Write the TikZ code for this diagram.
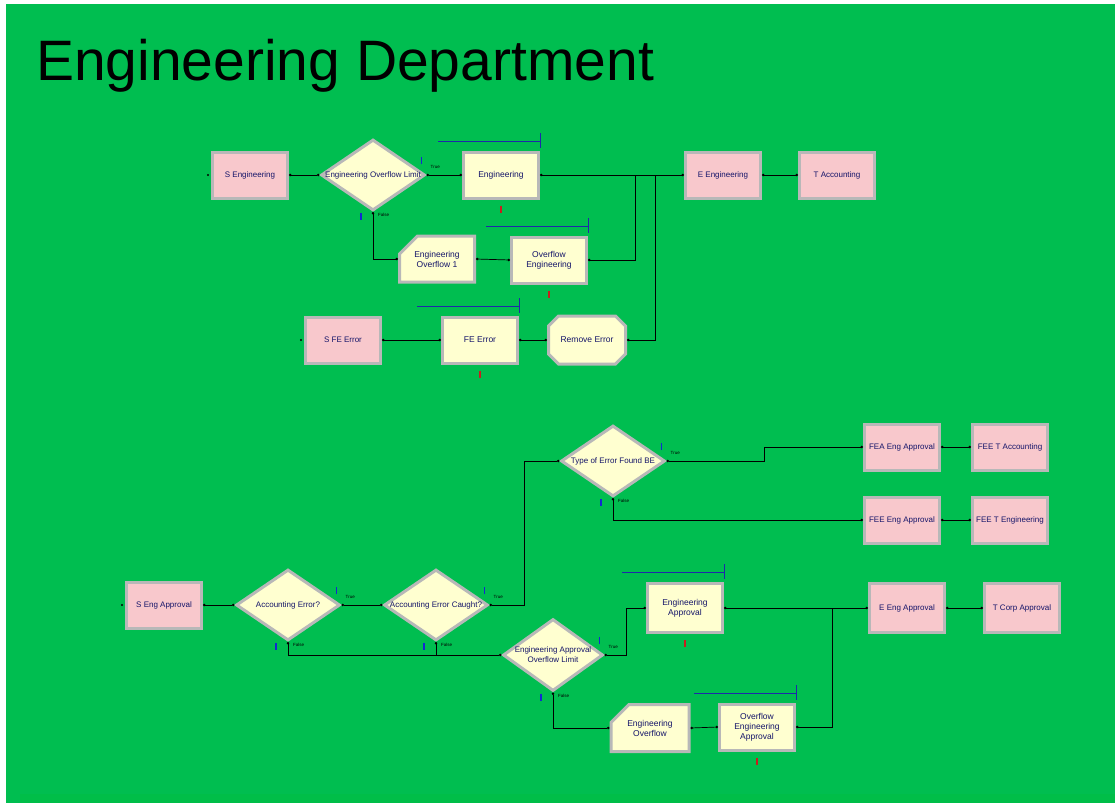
\documentclass[tikz,border=0pt]{standalone}
\usepackage{fontspec}
\setmainfont{Liberation Sans}
\usetikzlibrary{shapes.geometric,shapes.misc,arrows.meta}

\definecolor{arenagreen}{RGB}{0,190,80}
\definecolor{modpink}{RGB}{248,200,204}
\definecolor{modyellow}{RGB}{255,255,208}
\definecolor{modedge}{RGB}{184,184,184}
\definecolor{modtext}{RGB}{20,20,105}
\definecolor{qblue}{RGB}{30,40,170}
\definecolor{tickblue}{RGB}{20,40,210}
\definecolor{busyred}{RGB}{200,30,30}

% queue line above a module
\newcommand{\queueline}[1]{%
  \draw[qblue, line width=0.8pt] ([xshift=-102pt,yshift=9.5pt]#1.north east) -- ([yshift=9.5pt]#1.north east);
  \draw[qblue, line width=0.8pt] ([yshift=3pt]#1.north east) -- ([yshift=18pt]#1.north east);}
% busy mark below a module
\newcommand{\busymark}[1]{%
  \draw[busyred, line width=1.4pt] ([yshift=-6pt]#1.south) -- ([yshift=-13pt]#1.south);}

\begin{document}
\begin{tikzpicture}[x=1pt,y=-1pt,
  module/.style={rectangle, draw=modedge, line width=3pt, inner sep=1pt, align=center,
    font=\fontsize{8}{9.5}\selectfont, text=modtext, minimum width=75pt, minimum height=46pt},
  create/.style={module, fill=modpink},
  process/.style={module, fill=modyellow, font=\fontsize{8.5}{10}\selectfont},
  holdbox/.style={process, chamfered rectangle, chamfered rectangle corners=north west,
    chamfered rectangle xsep=9pt, chamfered rectangle ysep=9pt},
  sepbox/.style={process, chamfered rectangle, chamfered rectangle xsep=6pt, chamfered rectangle ysep=6pt},
  decide/.style={diamond, draw=modedge, line width=3pt, fill=modyellow, inner sep=0pt,
    minimum width=104pt, minimum height=71pt},
  dtxt/.style={font=\fontsize{8}{10}\selectfont, text=modtext, align=center, inner sep=0pt},
  flow/.style={line width=0.7pt, {Circle[length=2.4pt]}-{Circle[length=2.4pt]}},
  mergeline/.style={line width=0.7pt, {Circle[length=2.4pt]}-},
  tf/.style={font=\fontsize{4.5}{5}\selectfont, inner sep=0pt, anchor=west}]

\useasboundingbox (0,0) rectangle (1115,803);
\fill[white] (0,0) rectangle (1115,803);
\fill[arenagreen] (6,4) rectangle (1115,803);
\fill[green!75!black!10!arenagreen] (20,794) rectangle (1115,803);

\node[anchor=base west, font=\fontsize{57}{60}\selectfont, inner sep=0pt] (title) at (36,80) {Engineering Department};

% engineering
\node[create] (seng) at (250,175) {S Engineering};
\node[decide, label={[dtxt]center:Engineering Overflow Limit}] (eol) at (373,175) {};
\node[process] (eng) at (501,175) {Engineering};
\node[create] (eeng) at (723,175) {E Engineering};
\node[create] (tacc) at (837,175) {T Accounting};
\node[holdbox] (eo1) at (437,259) {Engineering\\Overflow 1};
\node[process] (oeng) at (549,260) {Overflow\\Engineering};
\node[create] (sfe) at (343,340) {S FE Error};
\node[process] (fee) at (480,340) {FE Error};
\node[sepbox, minimum width=77pt, minimum height=48pt] (rem) at (587,340) {Remove Error};

\coordinate (j1) at (635,175);
\coordinate (j2) at (655,175);

\draw[flow] (seng.east) -- (eol.west);
\draw[flow] (eol.east) -- (eng.west);
\draw[flow] (eng.east) -- (eeng.west);
\draw[flow] (eeng.east) -- (tacc.west);
\draw[flow] (eol.south) |- (eo1.west);
\draw[flow] (oeng.west) -- (eo1.east);
\draw[mergeline] (oeng.east) -| (j1);
\draw[flow] (sfe.east) -- (fee.west);
\draw[flow] (fee.east) -- (rem.west);
\draw[mergeline] (rem.east) -| (j2);

% approval
\node[decide, label={[dtxt]center:Type of Error Found BE}] (toe) at (613,461) {};
\node[create] (feaea) at (902,447) {FEA Eng Approval};
\node[create] (feeta) at (1010,447) {FEE T Accounting};
\node[create] (feeea) at (902,520) {FEE Eng Approval};
\node[create] (feete) at (1010,520) {FEE T Engineering};
\node[create] (sea) at (164,605) {S Eng Approval};
\node[decide, label={[dtxt]center:Accounting Error?}] (ae) at (288,605) {};
\node[decide, label={[dtxt]center:Accounting Error Caught?}] (aec) at (436,605) {};
\node[decide, minimum width=100pt, minimum height=72pt,
  label={[dtxt]center:{Engineering Approval\\Overflow Limit}}] (eaol) at (553,655) {};
\node[process, minimum height=49pt] (ea) at (685,608) {Engineering\\Approval};
\node[create, minimum height=49pt] (eea) at (907,608) {E Eng Approval};
\node[create, minimum height=49pt] (tca) at (1022,608) {T Corp Approval};
\node[holdbox, minimum width=78pt, minimum height=47pt] (eov) at (650,728) {Engineering\\Overflow};
\node[process] (oea) at (757,727) {Overflow\\Engineering\\Approval};

\coordinate (j3) at (832,608);

\draw[flow] (sea.east) -- (ae.west);
\draw[flow] (ae.east) -- (aec.west);
\draw[flow] (aec.east) -- ++(35,0) |- (toe.west);
\draw[flow] (toe.east) -- ++(98,0) |- (feaea.west);
\draw[flow] (toe.south) |- (feeea.west);
\draw[flow] (feaea.east) -- (feeta.west);
\draw[flow] (feeea.east) -- (feete.west);
\draw[flow] (eaol.west) -| (ae.south);
\draw[mergeline] (aec.south) -- (aec.south |- eaol.west);
\draw[flow] (eaol.east) -- ++(22,0) |- (ea.west);
\draw[flow] (ea.east) -- (eea.west);
\draw[flow] (eea.east) -- (tca.west);
\draw[flow] (eaol.south) |- (eov.west);
\draw[flow] (oea.west) -- (eov.east);
\draw[mergeline] (oea.east) -| (j3);

\foreach \s in {seng,sfe,sea}
  \fill ([xshift=-3pt]\s.west) circle (1.2);

\foreach \m in {eng,oeng,fee,ea,oea}
{
  \queueline{\m}
  \busymark{\m}
}

\foreach \d in {eol,ae,aec,toe,eaol}
{
  \draw[tickblue, line width=1.6pt] ([xshift=-5pt,yshift=11pt]\d.east) -- ([xshift=-5pt,yshift=18pt]\d.east);
  \node[tf] at ([xshift=4pt,yshift=8pt]\d.east) {True};
  \draw[tickblue, line width=1.6pt] ([xshift=-12pt,yshift=-1pt]\d.south) -- ([xshift=-12pt,yshift=-8pt]\d.south);
  \node[tf] at ([xshift=5pt,yshift=-3pt]\d.south) {False};
}

\end{tikzpicture}
\end{document}
